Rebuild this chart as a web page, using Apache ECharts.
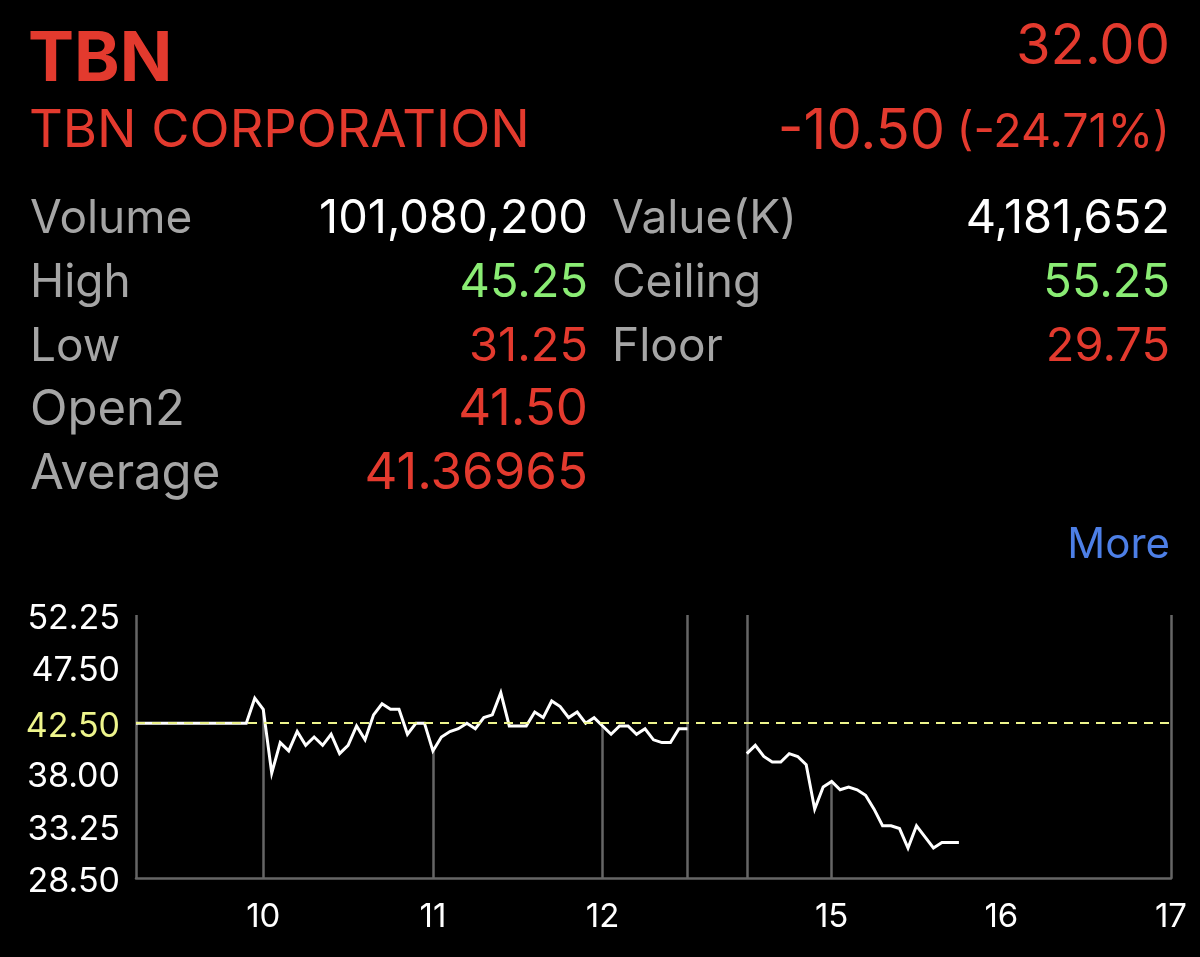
<!DOCTYPE html>
<html>
<head>
<meta charset="utf-8">
<style>
html, body { margin: 0; padding: 0; background: #000; }
#main { width: 1200px; height: 957px; }
</style>
<script src="https://cdn.jsdelivr.net/npm/echarts@6/dist/echarts.min.js"></script>
</head>
<body>
<div id="main"></div>
<script>
// prices per 3 minute slot, morning session starts 09:15, afternoon 14:30
var morningPrices = [
    42.5, 42.5, 42.5, 42.5, 42.5, 42.5, 42.5, 42.5, 42.5, 42.5, 42.5, 42.5, 42.5, 42.5,
    44.75, 43.75, 38, 40.75, 40, 41.75, 40.5, 41.25, 40.5, 41.5, 39.75, 40.5, 42.25, 41,
    43.25, 44.25, 43.75, 43.75, 41.5, 42.5, 42.5, 40, 41.25, 41.75, 42, 42.5, 42, 43,
    43.25, 45.25, 42.25, 42.25, 42.25, 43.5, 43, 44.5, 44, 43, 43.5, 42.5, 43, 42.25,
    41.5, 42.25, 42.25, 41.5, 42, 41, 40.75, 40.75, 42, 42
];
var afternoonPrices = [
    39.75, 40.5, 39.5, 39, 39, 39.75, 39.5, 38.75, 34.75, 36.75, 37.25, 36.5, 36.75,
    36.5, 36, 34.75, 33.25, 33.25, 33, 31.25, 33.25, 32.25, 31.25, 31.75, 31.75, 31.75
];
var yTicks = [28.5, 33.25, 38, 42.5, 47.5, 52.25];
var refPrice = 42.5;
var hourLabels = { '10:00': '10', '11:00': '11', '12:00': '12', '15:00': '15', '16:00': '16', '17:00': '17' };
var fullLines = ['09:15', '12:30', '14:30', '17:00'];
var dropLines = ['10:00', '11:00', '12:00', '15:00'];

var leftNames = ['Volume', 'High', 'Low', 'Open2', 'Average'];
var leftValues = ['101,080,200', '45.25', '31.25', '41.50', '41.36965'];
var rightNames = ['Value(K)', 'Ceiling', 'Floor'];
var rightValues = ['4,181,652', '55.25', '29.75'];

var RED = '#e33a2e', GREEN = '#8aec74', GREY = '#a5a5a5', AXIS = '#666666', YELLOW = '#eef58c';
var rowColors = ['#ffffff', GREEN, RED, RED, RED];
var rowY = [219, 283, 347, 410, 474];
var nameSize = [46, 46, 46, 49, 49];
var valueSize = [47, 47, 47, 51, 51];

// lunch break is squeezed to 7 slots on the axis
function slots(h, m, count) {
    var out = [];
    for (var i = 0; i < count; i++) {
        var t = h * 60 + m + i * 3;
        out.push(('0' + Math.floor(t / 60)).slice(-2) + ':' + ('0' + t % 60).slice(-2));
    }
    return out;
}
var categories = slots(9, 15, 66);
for (var g = 1; g <= 6; g++) categories.push('L' + g);
categories = categories.concat(slots(14, 30, 51));

var prices = categories.map(function (c) { return null; });
morningPrices.forEach(function (p, i) { prices[i] = p; });
afternoonPrices.forEach(function (p, i) { prices[72 + i] = p; });

function txt(x, y, text, size, color, align, weight) {
    return {
        type: 'text', x: x, y: y, silent: true,
        style: {
            text: text, fontSize: size, fill: color, align: align || 'left',
            verticalAlign: 'middle', fontFamily: 'Inter', fontWeight: weight || 'normal'
        }
    };
}

var header = [
    txt(28, 60, 'TBN', 69, RED, 'left', 'bold'),
    txt(29, 131, 'TBN CORPORATION', 52.4, RED),
    txt(1170, 47, '32.00', 56, RED, 'right'),
    txt(945, 132, '-10.50', 56, RED, 'right'),
    txt(1170, 133, '(-24.71%)', 46.5, RED, 'right'),
    txt(1170, 545, 'More', 42, '#4d7fe6', 'right')
];
leftNames.forEach(function (n, i) {
    header.push(txt(30, rowY[i], n, nameSize[i], GREY));
    header.push(txt(588, rowY[i], leftValues[i], valueSize[i], rowColors[i], 'right'));
});
rightNames.forEach(function (n, i) {
    header.push(txt(612, rowY[i], n, nameSize[i], GREY));
    header.push(txt(1170, rowY[i], rightValues[i], valueSize[i], rowColors[i], 'right'));
});

var myChart = echarts.init(document.getElementById('main'));
var option = {
    backgroundColor: '#000',
    animation: false,
    textStyle: { fontFamily: 'Inter' },
    graphic: header,
    grid: { left: 136, right: 29, top: 615, bottom: 78.5 },
    xAxis: {
        type: 'category',
        boundaryGap: false,
        data: categories,
        axisLine: { lineStyle: { color: AXIS, width: 2.5 } },
        axisTick: { show: false },
        axisLabel: {
            color: '#fff', fontSize: 33, margin: 22, showMaxLabel: true,
            interval: function (i, v) { return !!hourLabels[v]; },
            formatter: function (v) { return hourLabels[v] || ''; }
        },
        splitLine: {
            show: true,
            interval: function (i, v) { return fullLines.indexOf(v) >= 0; },
            lineStyle: { color: AXIS, width: 2.5 }
        }
    },
    yAxis: {
        type: 'value',
        min: 28.5,
        max: 52.25,
        axisLine: { show: false },
        axisTick: { show: false },
        splitLine: { show: false },
        axisLabel: {
            customValues: yTicks,
            fontSize: 34,
            margin: 16,
            verticalAlign: 'top',
            lineHeight: 7,
            color: function (v) { return Number(v) === refPrice ? YELLOW : '#fff'; },
            formatter: function (v) { return v.toFixed(2); }
        }
    },
    series: [{
        type: 'line',
        data: prices,
        symbol: 'none',
        connectNulls: false,
        lineStyle: { color: '#fff', width: 3, join: 'miter' },
        markLine: {
            silent: true,
            symbol: 'none',
            label: { show: false },
            lineStyle: { color: AXIS, width: 2.5, type: 'solid' },
            z: 1,
            data: dropLines.map(function (c) {
                return [
                    { coord: [c, prices[categories.indexOf(c)]] },
                    { coord: [c, 28.5] }
                ];
            })
        },
        z: 3
    }, {
        type: 'line',
        data: [],
        markLine: {
            silent: true,
            symbol: 'none',
            label: { show: false },
            lineStyle: { color: YELLOW, width: 2, type: [9, 7] },
            data: [{ yAxis: refPrice }]
        },
        z: 4
    }]
};
myChart.setOption(option);
</script>
</body>
</html>
